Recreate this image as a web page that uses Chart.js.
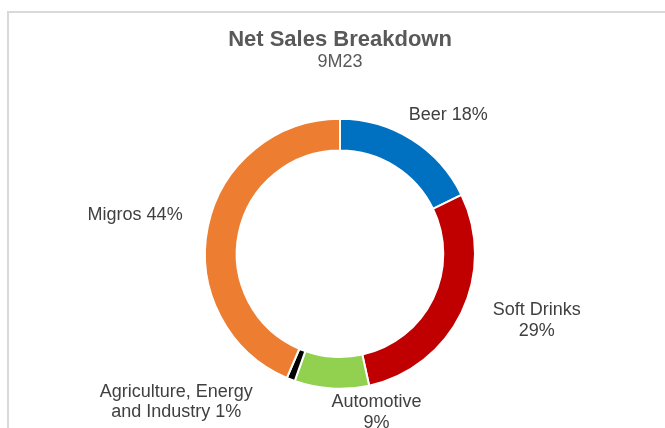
<!DOCTYPE html>
<html><head><meta charset="utf-8">
<script src="https://cdn.jsdelivr.net/npm/chart.js@4.4.0/dist/chart.umd.min.js"></script>
<style>html,body{margin:0;padding:0;background:#fff;overflow:hidden}#wrap{width:665px;height:428px;position:relative}</style>
</head><body><div id="wrap"><canvas id="c" width="665" height="428"></canvas></div>
<script>
// ---- data ----
const categories = ['Beer', 'Soft Drinks\n', 'Automotive\n', 'Agriculture, Energy\nand Industry', 'Migros'];
const shares = [18, 29, 9, 1, 44];
const sliceColors = ['#0070C0', '#C00000', '#92D050', '#000000', '#ED7D31'];
const titleText = 'Net Sales Breakdown';
const subtitleText = '9M23';

const labelText = categories.map((c, i) => c + (c.endsWith('\n') ? '' : ' ') + shares[i] + '%');

Chart.defaults.font.family = "'Liberation Sans', Arial, sans-serif";

const frame = {
  id: 'frame',
  beforeDraw(chart) {
    const ctx = chart.ctx;
    ctx.save();
    ctx.strokeStyle = '#d9d9d9';
    ctx.lineWidth = 2;
    ctx.strokeRect(8, 12, 800, 600);
    ctx.restore();
  }
};

const outsideLabels = {
  id: 'outsideLabels',
  afterDatasetsDraw(chart, args, opts) {
    const ctx = chart.ctx;
    const meta = chart.getDatasetMeta(0);
    ctx.save();
    ctx.font = opts.font;
    ctx.fillStyle = opts.color;
    ctx.textAlign = 'center';
    ctx.textBaseline = 'middle';
    meta.data.forEach((arc, i) => {
      const p = arc.getProps(['x', 'y', 'startAngle', 'endAngle', 'outerRadius'], true);
      const mid = (p.startAngle + p.endAngle) / 2;
      const r = p.outerRadius + opts.gap;
      const x = p.x + Math.cos(mid) * r + opts.nudge[i][0];
      const y = p.y + Math.sin(mid) * r + opts.nudge[i][1];
      const lines = labelText[i].split('\n');
      lines.forEach((ln, k) => ctx.fillText(ln, x, y + (k - (lines.length - 1) / 2) * opts.lineHeight));
    });
    ctx.restore();
  }
};

new Chart(document.getElementById('c'), {
  type: 'doughnut',
  data: {
    labels: categories,
    datasets: [{
      data: shares,
      backgroundColor: sliceColors,
      borderColor: '#ffffff',
      borderWidth: 2
    }]
  },
  options: {
    responsive: false,
    animation: false,
    cutout: '76.5%',
    layout: { padding: { left: 204, right: 189, top: 0, bottom: 38 } },
    plugins: {
      legend: { display: false },
      tooltip: { enabled: false },
      title: {
        display: true, text: titleText, color: '#595959',
        font: { size: 22, weight: 'bold', lineHeight: 1.0 },
        padding: { top: 29, bottom: 0 }
      },
      subtitle: {
        display: true, text: subtitleText, color: '#595959',
        font: { size: 18, lineHeight: 1.2 },
        padding: { top: 0, bottom: 45 }
      },
      outsideLabels: {
        font: "18px 'Liberation Sans', Arial, sans-serif",
        color: '#404040',
        gap: 18,
        lineHeight: 20.5,
        nudge: [[27, -9], [59, 0], [46, 6], [-108, 6], [-55, -8]]
      }
    }
  },
  plugins: [frame, outsideLabels]
});
</script>
</body></html>
